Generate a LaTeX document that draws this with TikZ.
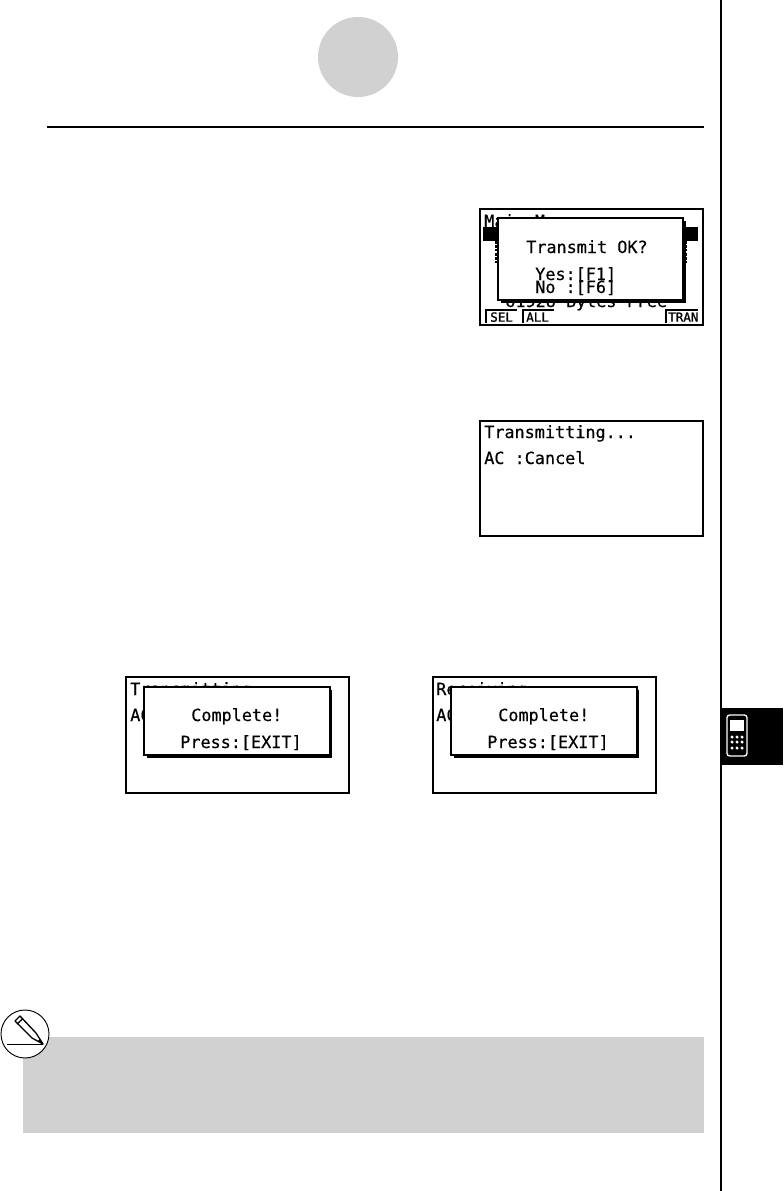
\documentclass[tikz,border=0pt]{standalone}
\usepackage{fontspec}
\newfontfamily\lcdfont[FakeBold=0.4]{DejaVu Sans Mono}
\newfontfamily\keyfont[FakeBold=1.2]{DejaVu Sans Mono}
\usepackage{xcolor}
\usetikzlibrary{positioning, shadows, calc}
\definecolor{panelgray}{gray}{0.82}

\begin{document}
\begin{tikzpicture}[
        x=0.75pt, y=-0.75pt,
        lcd/.style={rectangle,draw,line width=1.4pt,fill=white,inner sep=0,outer sep=0,minimum width=167pt,minimum height=86.5pt},
        dlg/.style={rectangle,draw,line width=1.4pt,fill=white,inner sep=0,outer sep=0,
          drop shadow={shadow xshift=2pt,shadow yshift=-2pt,fill=black,opacity=1}},
        txt/.style={anchor=west,inner sep=0,font=\lcdfont\fontsize{12.6}{13}\selectfont,text height=9pt,text depth=0pt},
        key/.style={anchor=west,inner sep=0,font=\keyfont\fontsize{9.4}{10}\selectfont,text height=7pt,text depth=0pt},
        btn/.style={circle,fill=white,inner sep=0,minimum size=2.6pt}
      ]
      \path[use as bounding box] (0,0) rectangle (783,1191);
      \fill[white] (0,0) rectangle (783,1191);
      % page furniture
      \node[circle,fill=panelgray,inner sep=0,minimum size=60pt] (badge) at (358,57) {};
      \coordinate (ruleL) at (47,127.5);
      \coordinate (ruleR) at (704,127.5);
      \draw[line width=1.5pt] (ruleL) -- (ruleR);
      \coordinate (edgeT) at (721,0);
      \coordinate (edgeB) at (721,1191);
      \draw[line width=1.5pt] (edgeT) -- (edgeB);

      % first screen
      \node[lcd] (scrA) at (591.5,267) {};
      \node[txt] (mainmem) at (484,221) {Main Mem};
      \fill (483,227) rectangle (698,241);
      \foreach \yy in {234,246,258} {
        \draw[line width=1pt,dash pattern=on 2pt off 1pt] (496,\yy-5) -- (496,\yy+5);
        \draw[line width=1pt,dash pattern=on 2pt off 1pt] (686,\yy-5) -- (686,\yy+5);
      }
      \node[txt] (free) at (505,301) {61928 Bytes Free};
      \node[dlg,minimum width=138.5pt,minimum height=61.5pt] (okdlg) at (590.5,259) {};
      \node[txt] (okq) at (526,247) {Transmit OK?};
      \node[txt] (yes) at (535,274) {Yes:[F1]};
      \node[txt] (no) at (535,287) {No :[F6]};
      \draw[line width=1pt] (486,323) -- (486,310) -- (517,310);
      \draw[line width=1pt] (523,323) -- (523,310) -- (554,310);
      \draw[line width=1pt] (666,323) -- (666,310) -- (698,310);
      \node[key] (sel) at (490,317) {SEL};
      \node[key] (all) at (526,317) {ALL};
      \node[key] (tran) at (668,317) {TRAN};

      % second screen
      \node[lcd] (scrB) at (591.5,478.5) {};
      \node[txt] (trans) at (484,432) {Transmitting...};
      \node[txt] (cancel) at (484,458) {AC :Cancel};

      % third screen
      \node[lcd] (scrC) at (237.5,735) {};
      \node[txt] (transC) at (130,689) {Transmitting...};
      \node[txt] (cancelC) at (130,715) {AC};
      \node[dlg,minimum width=139pt,minimum height=51pt] (doneC) at (237,721) {};
      \node[txt] (compC) at (191,715) {Complete!};
      \node[txt] (pressC) at (180,742) {Press:[EXIT]};

      % fourth screen
      \node[lcd] (scrD) at (544.5,735) {};
      \node[txt] (recv) at (436,689) {Receiving...};
      \node[txt] (cancelD) at (436,715) {AC};
      \node[dlg,minimum width=139pt,minimum height=51pt] (doneD) at (544,721) {};
      \node[txt] (compD) at (498,715) {Complete!};
      \node[txt] (pressD) at (487,742) {Press:[EXIT]};

      % side tab
      \fill (721,708) rectangle (783,765);
      \draw[white,line width=1pt,rounded corners=2pt] (727,715) rectangle (747,756);
      \fill[white] (730,720) rectangle (744,731);
      \foreach \yy in {737,742,748} {
        \foreach \xx in {732,737,742} {
          \node[btn] at (\xx,\yy) {};
        }
      }

      % note panel
      \fill[panelgray] (23,1037) rectangle (704,1133);
      \node[circle,draw,fill=white,line width=0.7pt,inner sep=0,minimum size=36pt] (noteic) at (25,1034) {};
      \coordinate (baseL) at (7,1044);
      \coordinate (tip) at (43,1044);
      \draw[line width=0.7pt] (baseL) -- (tip);
      \draw[line width=1pt,fill=white,line join=round] (tip) -- (36,1033) -- (20,1016) -- (15,1021) -- (32,1038) -- cycle;
      \draw[line width=1pt] (17,1024) -- (23,1018.5);
      \fill (tip) -- (39.5,1039) -- (38,1041) -- cycle;
    \end{tikzpicture}
\end{document}
